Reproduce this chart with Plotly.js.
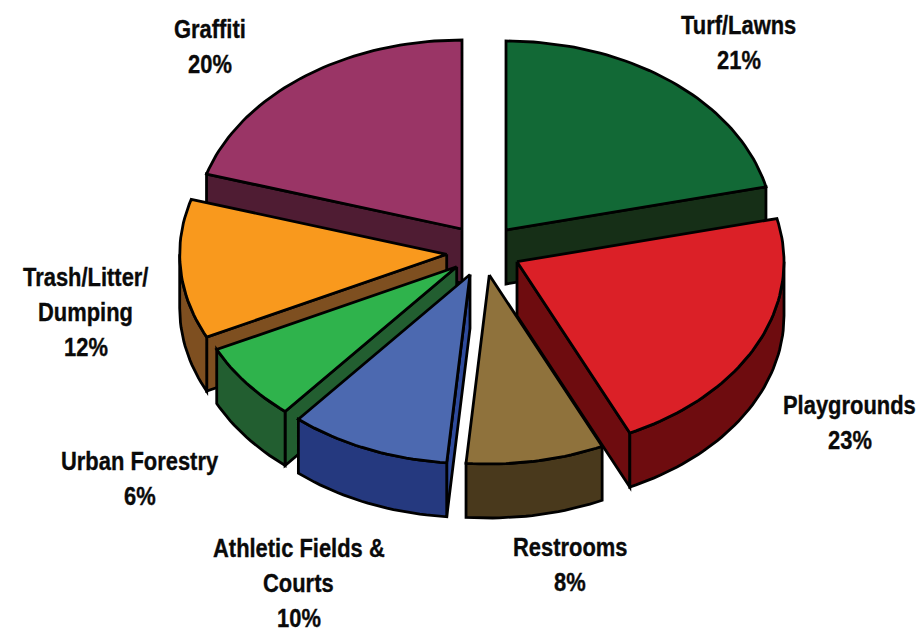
<!DOCTYPE html>
<html>
<head>
<meta charset="utf-8">
<script src="https://cdn.plot.ly/plotly-3.0.1.min.js"></script>
<style>
html,body{margin:0;padding:0;background:#fff}
#chart{width:921px;height:631px}
.scatterlayer path{stroke-linejoin:miter !important;stroke-miterlimit:6 !important}
.annotation-text{transform-box:fill-box;transform-origin:center;transform:scaleX(.86);stroke:#0a0a0a;stroke-width:.35px}
</style>
</head>
<body>
<div id="chart"></div>
<script>
// Data
const categories = ['Turf/Lawns','Playgrounds','Restrooms','Athletic Fields & Courts','Urban Forestry','Trash/Litter/ Dumping','Graffiti'];
const shares = [21,23,8,10,6,12,20];
const labelLines = [['Turf/Lawns'],['Playgrounds'],['Restrooms'],['Athletic Fields &','Courts'],['Urban Forestry'],['Trash/Litter/','Dumping'],['Graffiti']];

// Style
const topColors  = ['#126936','#db2027','#8f723c','#4c69b0','#2fb34c','#f9991d','#9a3566'];
const wallColors = ['#162f17','#6e0c0f','#49391c','#25397f','#225e30','#7e4f20','#4f1c33'];
const flankColors= ['#162f17','#6e0c0f','#49391c','#2f4b9c','#225e30','#7e4f20','#4f1c33'];

// Geometry of the tilted, exploded pie
const apexX = [506,517,489.3,470,456.7,446.7,462];
const apexY = [230,261.7,275,274.5,266.7,254.3,229];
const labelX = [738.5,849.5,569.5,298.5,139.5,85.5,209.5];
const labelY = [24,404,546,547,460,276,28];
const RX = 267, RY = 189, DEPTH = 54, LINE_GAP = 35;
// the drawing's perspective shifts each slice's closing edge by a few degrees
const edgeShiftDeg = [1.2,-3.4,-2.2,-3.2,-0.8,-1.1,0];
const drawOrder = [0,6,5,4,3,2,1];

const total = shares.reduce((a,b)=>a+b,0);
let run = 0;
const endDeg = shares.map((s,i)=>{run+=s;return run/total*360+edgeShiftDeg[i];});
const startDeg = endDeg.map((e,i)=>i===0?0:endDeg[i-1]);
const rad = d=>d*Math.PI/180;
const ptX=(i,d)=>apexX[i]+RX*Math.sin(rad(d));
const ptY=(i,d,drop)=>apexY[i]-RY*Math.cos(rad(d))+(drop||0);

function arc(i,a,b,drop){
  const xs=[],ys=[];const n=Math.max(2,Math.ceil(Math.abs(b-a)/1.5));
  for(let k=0;k<=n;k++){const d=a+(b-a)*k/n;xs.push(ptX(i,d));ys.push(ptY(i,d,drop));}
  return [xs,ys];
}
function poly(x,y,fill,name){
  return {type:'scatter',mode:'lines',x:x.concat([x[0]]),y:y.concat([y[0]]),fill:'toself',fillcolor:fill,
    line:{color:'#000',width:2.8},hoverinfo:'skip',showlegend:false,name:name};
}
const traces=[];
drawOrder.forEach(i=>{
  const s=startDeg[i],e=endDeg[i],name=categories[i];
  // radial faces that look towards the viewer
  if(Math.sin(rad(e))>0){
    traces.push(poly([apexX[i],ptX(i,e),ptX(i,e),apexX[i]],[apexY[i],ptY(i,e),ptY(i,e,DEPTH),apexY[i]+DEPTH],wallColors[i],name));
  }
  if(Math.sin(rad(s))<0){
    traces.push(poly([apexX[i],ptX(i,s),ptX(i,s),apexX[i]],[apexY[i],ptY(i,s),ptY(i,s,DEPTH),apexY[i]+DEPTH],flankColors[i],name));
  }
  // outer rim, only the front half of the ellipse shows
  const a=Math.max(s,90),b=Math.min(e,270);
  if(b>a){
    const up=arc(i,a,b,0),dn=arc(i,b,a,DEPTH);
    traces.push(poly(up[0].concat(dn[0]),up[1].concat(dn[1]),wallColors[i],name));
  }
  // top face
  const t=arc(i,s,e,0);
  traces.push(poly([apexX[i]].concat(t[0]),[apexY[i]].concat(t[1]),topColors[i],name));
});

const annotations=[];
labelLines.forEach((lines,i)=>{
  lines.concat([shares[i]+'%']).forEach((txt,k)=>{
    annotations.push({x:labelX[i],y:labelY[i]+k*LINE_GAP,xref:'x',yref:'y',text:txt.replace('&','&amp;'),showarrow:false,
      xanchor:'center',yanchor:'middle',font:{family:'"Liberation Sans",Arial,sans-serif',size:25.5,weight:700,color:'#0a0a0a'}});
  });
});

Plotly.newPlot('chart',traces,{
  width:921,height:631,margin:{l:0,r:0,t:0,b:0},paper_bgcolor:'#fff',plot_bgcolor:'#fff',showlegend:false,
  xaxis:{range:[0,921],visible:false,fixedrange:true},
  yaxis:{range:[631,0],visible:false,fixedrange:true},
  annotations:annotations
},{displayModeBar:false,staticPlot:true});
</script>
</body>
</html>
